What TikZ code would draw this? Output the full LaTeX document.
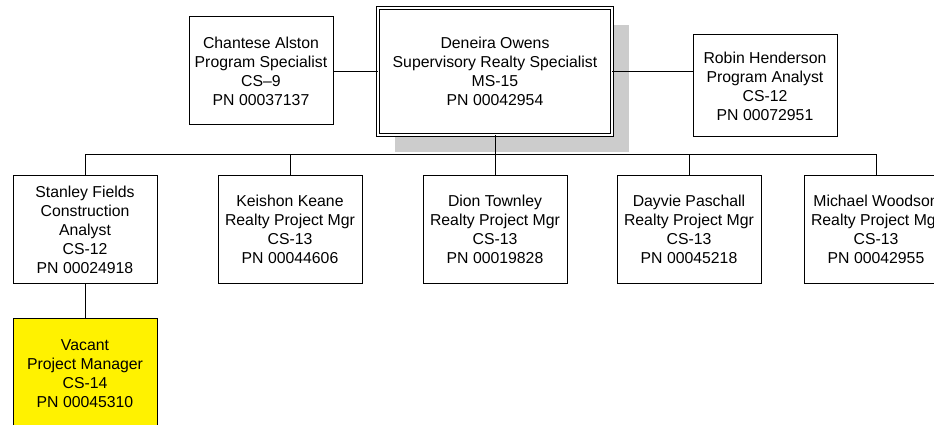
\documentclass[tikz,border=0pt]{standalone}
\usepackage{fontspec}
\setmainfont{Liberation Sans}
\usetikzlibrary{shadows}

\begin{document}
\begin{tikzpicture}[x=1pt,y=-1pt,
    post/.style={draw,line width=1pt,fill=white,align=center,inner sep=0pt,
      minimum width=144pt,minimum height=108pt,font=\fontsize{15.8}{19}\selectfont},
    head/.style={post,double,double distance=1.8pt,line width=0.7pt,
      minimum width=234pt,minimum height=127pt,
      drop shadow={shadow xshift=17pt,shadow yshift=-17pt,fill=black!20,opacity=1}},
    link/.style={line width=0.8pt}]
    \useasboundingbox (0,0) rectangle (934,425);

    \node[head] (ceo) at (495,71.5) {Deneira Owens\\Supervisory Realty Specialist\\MS-15\\PN 00042954};
    \node[post] (chantese) at (261,71) {Chantese Alston\\Program Specialist\\CS--9\\PN 00037137};
    \node[post,minimum height=102pt] (robin) at (765,86) {Robin Henderson\\Program Analyst\\CS-12\\PN 00072951};

    \node[post] (stanley) at (85,229.5) {Stanley Fields\\Construction\\Analyst\\CS-12\\PN 00024918};
    \node[post] (keishon) at (290,229.5) {Keishon Keane\\Realty Project Mgr\\CS-13\\PN 00044606};
    \node[post] (dion) at (495,229.5) {Dion Townley\\Realty Project Mgr\\CS-13\\PN 00019828};
    \node[post] (dayvie) at (689,229.5) {Dayvie Paschall\\Realty Project Mgr\\CS-13\\PN 00045218};
    \node[post] (michael) at (876,229.5) {Michael Woodson\\Realty Project Mgr\\CS-13\\PN 00042955};
    \node[post,fill=yellow,minimum height=112pt] (vacant) at (85,374) {Vacant\\Project Manager\\CS-14\\PN 00045310};

    \coordinate (bus) at (495,154);

    \draw[link] (chantese) -- (chantese -| ceo.west);
    \draw[link] (ceo.east) -- (ceo.east -| robin.west);
    \draw[link] (ceo) -- (bus);
    \foreach \n in {stanley,keishon,dion,dayvie,michael}
        \draw[link] (bus) -| (\n);
    \draw[link] (stanley) -- (vacant);
\end{tikzpicture}
\end{document}
